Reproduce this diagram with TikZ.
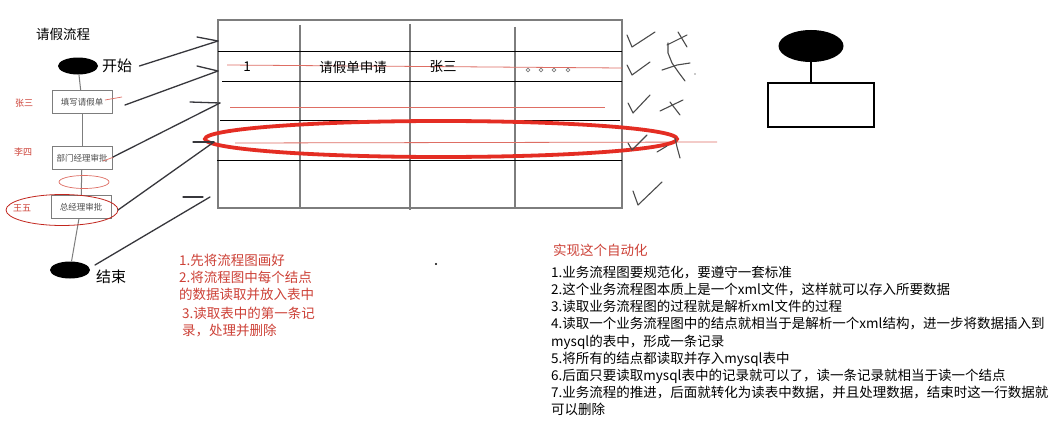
\documentclass[tikz,border=0pt]{standalone}
\usepackage{fontspec}
\setmainfont{Noto Sans CJK SC}
\usetikzlibrary{shapes.geometric}
\definecolor{pen}{RGB}{30,30,30}
\definecolor{inkline}{RGB}{55,55,60}
\definecolor{redpen}{RGB}{228,45,35}
\definecolor{redtext}{RGB}{205,65,55}
\definecolor{thinred}{RGB}{222,110,100}
\definecolor{grayline}{RGB}{125,125,125}
\begin{document}
\begin{tikzpicture}[x=1pt,y=-1pt,
  blob/.style={ellipse, fill=black, inner sep=0, minimum width=40, minimum height=17},
  flowbox/.style={draw=grayline, line width=0.9, minimum width=60, minimum height=23, inner sep=0, font=\fontsize{8.5}{9}\selectfont, text=black!70},
  who/.style={text=redtext, font=\fontsize{9}{10}\selectfont},
  flowline/.style={draw=grayline, line width=1},
  hand/.style={draw=inkline, line width=1.3, line cap=round},
  penmark/.style={draw=pen!80, line width=1.1, line cap=round, line join=round},
  tborder/.style={draw=grayline, line width=1.3},
  trow/.style={draw=black, line width=0.9},
  txt/.style={font=\fontsize{13.5}{17}\selectfont},
]
\useasboundingbox (0,0) rectangle (1064,436);
\fill[white] (0,0) rectangle (1064,436);

% ---------- flow on the left ----------
\node[txt] (title) at (63,34) {请假流程};
\node[blob] (start) at (78,66) {};
\node[anchor=west, inner sep=0, font=\fontsize{15}{16}\selectfont] (startlbl) at (102,66) {开始};
\node[flowbox] (b1) at (82,102) {填写请假单};
\node[flowbox] (b2) at (82,158) {部门经理审批};
\node[flowbox] (b3) at (81,207) {总经理审批};
\node[blob] (end) at (70,270) {};
\node[anchor=west, inner sep=0, font=\fontsize{15}{16}\selectfont] (endlbl) at (96,277) {结束};
\node[who] (w1) at (24,103) {张三};
\node[who] (w2) at (23,152) {李四};
\node[who] (w3) at (22,208) {王五};

\draw[flowline] (start) -- (b1);
\draw[flowline] (b1) -- (b2);
\draw[flowline] (b2) -- (b3);
\draw[flowline] (b3) -- (end);

\node[ellipse, draw=thinred, line width=0.7, minimum width=50, minimum height=13, inner sep=0] (e1) at (84,182) {};
\node[ellipse, draw=redpen!85!black, line width=0.8, minimum width=112, minimum height=31, inner sep=0] (e2) at (62,210) {};
\draw[thinred, line width=0.7] (105,100) -- (122,97);
\draw[thinred, line width=0.7] (103,161) -- (114,157);

% ---------- table ----------
\draw[tborder] (218,20) rectangle (622,208);
\draw[tborder] (300,25) -- (300,208);
\draw[tborder] (410,24) -- (410,210);
\draw[tborder] (515,27) -- (515,208);
\draw[trow] (218,51) -- (622,51);
\draw[trow] (222,81) -- (622,81);
\draw[trow] (220,120) -- (620,120);
\draw[trow] (217,160) -- (622,160);

\draw[thinred, line width=0.8] (227,65) -- (622,68);
\draw[thinred, line width=0.8] (230,107) -- (605,107);
\draw[thinred, line width=0.8] (235,143) -- (717,142);

\node[txt] (c1) at (247,67) {1};
\node[txt] (c2) at (353,67) {请假单申请};
\node[txt] (c3) at (443,67) {张三};
\foreach \x in {528,541,554,568} \draw[grayline, line width=0.7] (\x,70) circle (1.8);

\node[ellipse, draw=redpen, line width=3.8, minimum width=472, minimum height=36, inner sep=0] (sel) at (441,139) {};

% ---------- hand-drawn arrows ----------
\coordinate (a1e) at (218,41);
\coordinate (a1t) at (197,37);
\coordinate (a2s) at (125,105);
\coordinate (a2e) at (218,71);
\coordinate (a2t) at (197,66);
\coordinate (a3s) at (113,157);
\coordinate (a3e) at (220,103);
\coordinate (a3t) at (190,102);
\coordinate (a4s) at (118,210);
\coordinate (a4e) at (214,142);
\coordinate (a4t) at (193,142);
\coordinate (a5s) at (95,265);
\coordinate (a5e) at (210,197);
\coordinate (a5t) at (183,197);
\coordinate (a5u) at (203,197);
\draw[hand] ([xshift=7]startlbl.east) -- (a1e);
\draw[hand] (a1t) -- (a1e);
\draw[hand] (a2s) -- (a2e);
\draw[hand] (a2t) -- (a2e);
\draw[hand] (a3s) -- (a3e);
\draw[hand] (a3t) -- (a3e);
\draw[hand] (a4s) -- (a4e);
\draw[hand] (a4t) -- (a4e);
\draw[hand] (a5s) -- (a5e);
\draw[hand] (a5t) -- (a5u);

% ---------- check marks and crosses ----------
\draw[penmark] (627,35) -- (632,47) -- (655,32);
\draw[penmark] (627,65) -- (632,75) -- (650,62);
\draw[penmark] (628,103) -- (633,113) -- (650,95);
\draw[penmark] (628,143) -- (632,150) -- (647,135);
\draw[penmark] (633,191) -- (638,205) -- (662,182);
\draw[penmark] (667,45) -- (687,35);
\draw[penmark] (678,32) -- (687,47);
\draw[penmark] (668,43) -- (668,53) -- (672,63) -- (679,73) -- (685,81);
\draw[penmark] (662,70) -- (677,65) -- (690,63);
\fill[pen] (695,74) circle (0.6);
\draw[penmark] (660,111) -- (683,100);
\draw[penmark] (670,102) -- (680,115);
\draw[penmark] (675,138) -- (677,147) -- (680,158);
\draw[penmark] (657,152) -- (667,146);

% ---------- top-right sketch ----------
\node[ellipse, fill=black, minimum width=65, minimum height=32, inner sep=0] (topblob) at (811,46) {};
\node[draw=black, line width=2, minimum width=106, minimum height=44, inner sep=0] (topbox) at (821,105) {};
\draw[line width=2] (topblob.south) -- (topblob.south |- topbox.north);

\fill (436,264) circle (1.1);

% ---------- notes ----------
\node[anchor=north west, align=left, inner sep=0, text=redtext, txt] (steps) at (179,254) {1.先将流程图画好\\2.将流程图中每个结点\\的数据读取并放入表中};
\node[anchor=north west, align=left, inner sep=0, text=redtext, txt, font=\fontsize{13.5}{16.5}\selectfont] (steps3) at (182,307) {3.读取表中的第一条记\\录，处理并删除};

\node[anchor=west, inner sep=0, text=redtext, txt] (auto) at (553,250) {实现这个自动化};
\node[anchor=north west, align=left, inner sep=0, txt, font=\fontsize{13.5}{17.1}\selectfont] (list) at (551,266) {%
1.业务流程图要规范化，要遵守一套标准\\
2.这个业务流程图本质上是一个xml文件，这样就可以存入所要数据\\
3.读取业务流程图的过程就是解析xml文件的过程\\
4.读取一个业务流程图中的结点就相当于是解析一个xml结构，进一步将数据插入到\\
mysql的表中，形成一条记录\\
5.将所有的结点都读取并存入mysql表中\\
6.后面只要读取mysql表中的记录就可以了，读一条记录就相当于读一个结点\\
7.业务流程的推进，后面就转化为读表中数据，并且处理数据，结束时这一行数据就\\
可以删除};
\end{tikzpicture}
\end{document}
